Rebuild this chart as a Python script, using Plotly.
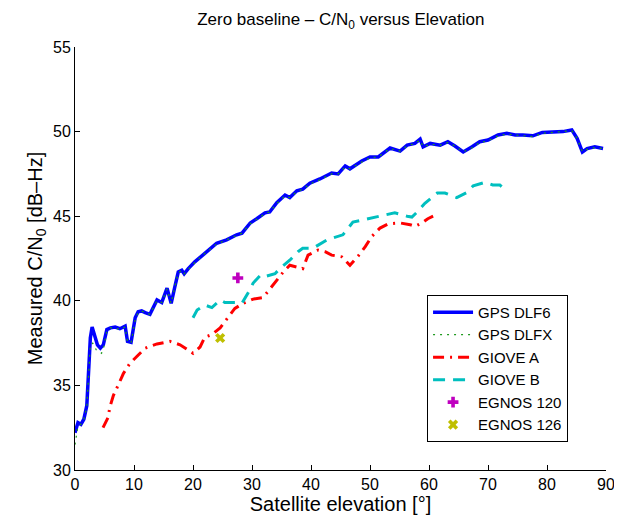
import plotly.graph_objects as go

# GPS DLF6 (blue, solid)
dlf6_el = [0.0, 0.5, 1.0, 1.5, 2.0, 2.3, 2.6, 2.9, 3.3, 3.8, 4.3, 4.8, 5.4, 6.0, 6.8, 7.6, 8.5, 8.9, 9.5,
           10.2, 10.7, 11.3, 11.9, 12.7, 13.9, 14.7, 15.6, 16.3, 16.9, 17.5, 18.1, 18.5, 19.2, 20.3, 22.0,
           24.0, 25.7, 27.4, 28.3, 29.7, 30.8, 32.2, 33.0, 34.2, 35.6, 36.4, 37.6, 38.6, 39.8, 41.5, 43.5,
           44.6, 45.8, 46.6, 48.6, 50.0, 51.4, 53.4, 55.1, 56.3, 57.6, 58.5, 59.0, 60.2, 61.9, 63.2, 64.4,
           65.8, 67.3, 68.6, 70.0, 71.7, 73.2, 74.6, 75.9, 77.6, 79.2, 81.0, 82.7, 84.2, 85.1, 86.0, 86.8,
           88.1, 89.5]
dlf6_cn0 = [32.2, 32.8, 32.7, 33.0, 33.8, 36.0, 37.8, 38.45, 37.9, 37.4, 37.2, 37.4, 38.3, 38.4, 38.45, 38.35,
            38.5, 37.6, 37.55, 39.0, 39.35, 39.4, 39.3, 39.2, 40.05, 39.9, 40.75, 39.85, 40.8, 41.7, 41.8,
            41.6, 41.9, 42.3, 42.8, 43.4, 43.6, 43.9, 44.0, 44.6, 44.85, 45.2, 45.25, 45.8, 46.25, 46.1,
            46.5, 46.6, 46.95, 47.2, 47.55, 47.5, 47.97, 47.8, 48.26, 48.5, 48.5, 49.03, 48.85, 49.2, 49.3,
            49.55, 49.1, 49.3, 49.2, 49.4, 49.15, 48.8, 49.1, 49.4, 49.5, 49.8, 49.9, 49.8, 49.8, 49.75,
            49.95, 50.0, 50.0, 50.1, 49.6, 48.8, 49.0, 49.1, 49.0]

# GPS DLFX (green, dotted) - nearly coincident with DLF6
dlfx_el = [0.0, 0.2, 0.5, 1.0, 1.5, 2.0, 2.3, 2.6, 3.0, 3.6, 4.5, 4.9, 5.4, 6.0, 6.8, 7.6, 8.5, 8.9, 9.5,
           10.2, 10.7, 11.3, 11.9, 12.7, 13.9, 14.7, 15.6, 16.3, 16.9, 17.5, 18.1, 18.5, 19.2, 20.3, 22.0,
           24.0, 25.7, 27.4, 28.3, 29.7, 30.8, 32.2, 33.0, 34.2, 35.6, 36.4, 37.6, 38.6, 39.8, 41.5, 43.5,
           44.6, 45.8, 46.6, 48.6, 50.0, 51.4, 53.4, 55.1, 56.3, 57.6, 58.5, 59.0, 60.2, 61.9, 63.2, 64.4,
           65.8, 67.3, 68.6, 70.0, 71.7, 73.2, 74.6, 75.9, 77.6, 79.2, 81.0, 82.7, 84.2, 85.1, 86.0, 86.8,
           88.1, 89.5]
dlfx_cn0 = [31.5, 31.9, 32.6, 32.7, 33.0, 33.7, 35.8, 37.4, 37.5, 37.1, 36.9, 37.3, 38.2, 38.4, 38.4, 38.3,
            38.45, 37.6, 37.5, 38.9, 39.3, 39.4, 39.3, 39.2, 40.0, 39.9, 40.7, 39.85, 40.8, 41.65, 41.8,
            41.6, 41.85, 42.25, 42.8, 43.35, 43.6, 43.85, 44.0, 44.55, 44.8, 45.15, 45.25, 45.75, 46.2, 46.1,
            46.45, 46.6, 46.9, 47.15, 47.5, 47.5, 47.9, 47.8, 48.2, 48.45, 48.5, 49.0, 48.85, 49.15, 49.3,
            49.5, 49.1, 49.25, 49.2, 49.35, 49.15, 48.8, 49.05, 49.35, 49.45, 49.75, 49.85, 49.8, 49.75, 49.7,
            49.9, 49.95, 50.0, 50.05, 49.6, 48.8, 48.95, 49.05, 49.0]

# GIOVE A (red, dash-dot)
giovea_el = [4.75, 5.6, 5.9, 6.5, 7.3, 8.2, 9.3, 10.7, 11.9, 13.9, 16.1, 17.8, 19.5, 20.0, 21.2, 22.0,
             23.2, 24.6, 25.9, 27.1, 28.5, 30.2, 31.9, 33.1, 33.9, 35.3, 36.4, 38.6, 39.5, 41.2, 42.4,
             43.5, 45.2, 46.6, 48.0, 49.2, 50.3, 51.7, 53.1, 55.1, 56.8, 57.6, 58.8, 59.8, 60.7]
giovea_cn0 = [32.5, 33.1, 33.7, 34.4, 35.0, 35.7, 36.3, 36.8, 37.2, 37.45, 37.6, 37.4, 37.0, 36.9, 37.27,
              37.85, 38.0, 38.4, 39.0, 39.55, 39.85, 40.1, 40.2, 40.75, 41.1, 41.7, 42.1, 41.9, 42.7, 43.0,
              42.9, 42.7, 42.6, 42.1, 42.65, 43.2, 43.8, 44.3, 44.55, 44.6, 44.5, 44.4, 44.6, 44.85, 45.0]

# GIOVE B (cyan, dashed)
gioveb_el = [20.0, 20.7, 22.0, 23.2, 24.6, 25.4, 27.4, 28.3, 29.3, 30.2, 31.4, 31.9, 33.9, 34.7, 36.4,
             37.8, 38.6, 40.3, 42.7, 45.4, 47.1, 50.3, 53.4, 54.2, 56.3, 57.1, 58.0, 59.3, 61.4, 62.7,
             64.7, 66.4, 67.5, 69.5, 70.8, 72.0, 72.9]
gioveb_cn0 = [39.0, 39.45, 39.75, 39.6, 40.05, 39.9, 39.9, 39.85, 40.45, 41.05, 41.5, 41.4, 41.6, 41.9,
              42.4, 42.9, 43.1, 43.1, 43.6, 43.9, 44.65, 44.9, 45.1, 45.2, 45.0, 44.95, 45.25, 45.76, 46.37,
              46.37, 46.1, 46.4, 46.8, 47.0, 46.85, 46.85, 46.55]

egnos120_el = [27.6]
egnos120_cn0 = [41.35]
egnos126_el = [24.6]
egnos126_cn0 = [37.8]

x_ticks = [0, 10, 20, 30, 40, 50, 60, 70, 80, 90]
y_ticks = [30, 35, 40, 45, 50, 55]

FONT = "Liberation Sans, Arial, Helvetica, sans-serif"

fig = go.Figure()
fig.add_trace(go.Scatter(x=dlf6_el, y=dlf6_cn0, mode="lines", name="GPS DLF6",
                         line=dict(color="#0000FF", width=3.5)))
fig.add_trace(go.Scatter(x=dlfx_el, y=dlfx_cn0, mode="lines", name="GPS DLFX",
                         line=dict(color="#1f9a1f", width=1.2, dash="2px,5px")))
fig.add_trace(go.Scatter(x=giovea_el, y=giovea_cn0, mode="lines", name="GIOVE A",
                         line=dict(color="#FF0000", width=3, dash="11px,6px,2px,6px")))
fig.add_trace(go.Scatter(x=gioveb_el, y=gioveb_cn0, mode="lines", name="GIOVE B",
                         line=dict(color="#00BFBF", width=3, dash="12px,8px")))
fig.add_trace(go.Scatter(x=egnos120_el, y=egnos120_cn0, mode="markers", name="EGNOS 120",
                         marker=dict(symbol="cross", color="#BF00BF", size=9)))
fig.add_trace(go.Scatter(x=egnos126_el, y=egnos126_cn0, mode="markers", name="EGNOS 126",
                         marker=dict(symbol="x", color="#BFBF00", size=9)))

axis_common = dict(showgrid=False, zeroline=False, showline=True, linecolor="black", linewidth=1,
                   ticks="inside", ticklen=5, tickcolor="black", mirror=False, automargin=False,
                   tickfont=dict(family=FONT, size=16, color="black"))

fig.update_layout(
    width=622, height=521,
    margin=dict(l=67, r=24, t=39, b=59, autoexpand=False),
    paper_bgcolor="white", plot_bgcolor="white",
    title=dict(text="Zero baseline \u2013 C/N<sub>0</sub> versus Elevation", x=0.535,
               xanchor="center", y=0.99, yanchor="top",
               font=dict(family=FONT, size=17, color="black")),
    xaxis=dict(range=[0, 90], tickvals=x_ticks, ticktext=[str(v) for v in x_ticks],
               title=dict(text="Satellite elevation [\u00b0]", font=dict(family=FONT, size=20, color="black"),
                          standoff=0),
               **axis_common),
    yaxis=dict(range=[30, 55], tickvals=y_ticks, ticktext=[str(v) for v in y_ticks],
               title=dict(text="Measured C/N<sub>0</sub> [dB\u2013Hz]",
                          font=dict(family=FONT, size=20, color="black"), standoff=5),
               **axis_common),
    legend=dict(x=0.663, y=0.414, xanchor="left", yanchor="top",
                bordercolor="black", borderwidth=1, bgcolor="white",
                font=dict(family=FONT, size=15, color="black"),
                itemwidth=40, tracegroupgap=0),
    showlegend=True,
)

fig.write_html("out.html")
